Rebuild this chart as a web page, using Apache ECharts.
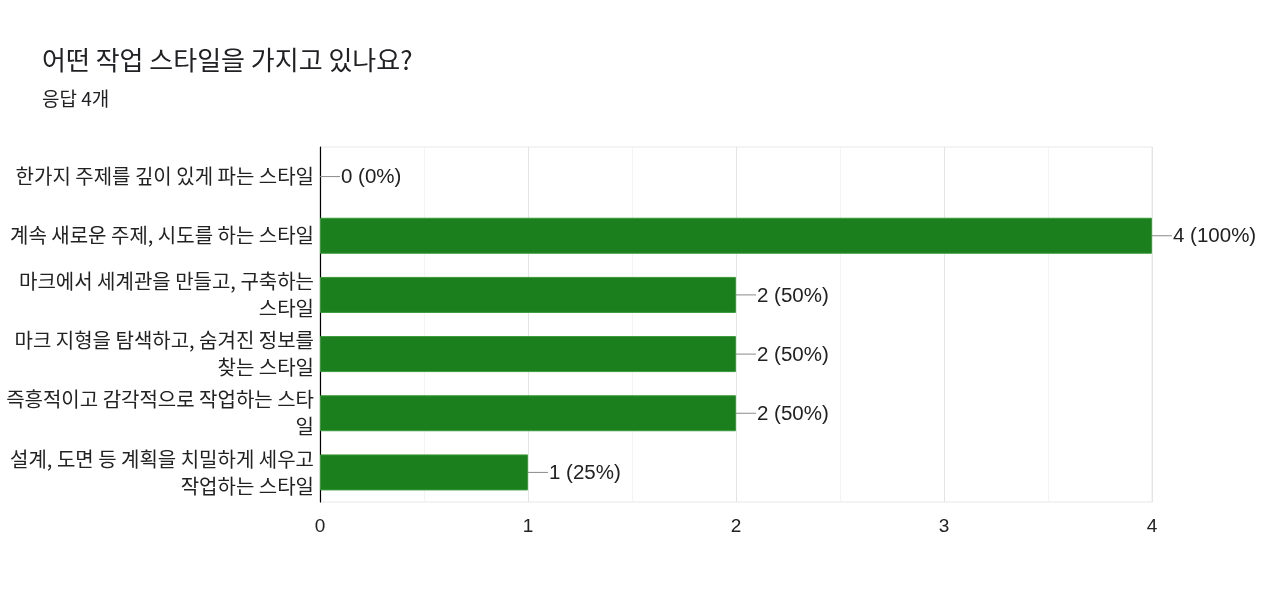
<!DOCTYPE html>
<html>
<head>
<meta charset="utf-8">
<script src="https://cdn.jsdelivr.net/npm/echarts@6/dist/echarts.min.js"></script>
<style>
  html, body { margin: 0; padding: 0; background: #fff; }
  #main { width: 1280px; height: 608px; }
</style>
</head>
<body>
<div id="main"></div>
<script>
// 질문과 응답 수
var question = '어떤 작업 스타일을 가지고 있나요?';
var responses = 4;

// 보기 (줄바꿈은 원본 그림과 같게)
var categories = [
    '한가지 주제를 깊이 있게 파는 스타일',
    '계속 새로운 주제, 시도를 하는 스타일',
    '마크에서 세계관을 만들고, 구축하는\n스타일',
    '마크 지형을 탐색하고, 숨겨진 정보를\n찾는 스타일',
    '즉흥적이고 감각적으로 작업하는 스타\n일',
    '설계, 도면 등 계획을 치밀하게 세우고\n작업하는 스타일'
];
var counts = [0, 4, 2, 2, 2, 1];
var xTicks = [0, 1, 2, 3, 4];

var myChart = echarts.init(document.getElementById('main'));

function valueLabel(v)
{
    return v + ' (' + Math.round(v / responses * 100) + '%)';
}

var option = {
    animation: false,
    title: [
        {
            text: question,
            left: 42,
            top: 47,
            padding: 0,
            textStyle: { fontSize: 26, fontWeight: 'normal', color: '#202124', fontFamily: 'Noto Sans CJK KR' }
        },
        {
            text: '응답 ' + responses + '개',
            left: 42,
            top: 89,
            padding: 0,
            textStyle: { fontSize: 19, fontWeight: 'normal', color: '#202124', fontFamily: 'Noto Sans CJK KR' }
        }
    ],
    grid: {
        left: 320,
        right: 128,
        top: 147,
        bottom: 106,
        show: true,
        borderColor: '#e8e8e8',
        borderWidth: 1
    },
    xAxis: {
        type: 'value',
        min: xTicks[0],
        max: xTicks[xTicks.length - 1],
        interval: 1,
        axisLine: { show: false },
        axisTick: { show: false },
        axisLabel: {
            margin: 15,
            fontSize: 19,
            color: '#222',
            fontFamily: 'Liberation Sans'
        },
        splitLine: { show: true, lineStyle: { color: '#e4e4e4', width: 1 } },
        minorTick: { show: false, splitNumber: 2 },
        minorSplitLine: { show: true, lineStyle: { color: '#f3f3f3', width: 1 } }
    },
    yAxis: {
        type: 'category',
        inverse: true,
        data: categories,
        axisLine: { show: true, lineStyle: { color: '#000', width: 1.2 } },
        axisTick: { show: false },
        axisLabel: {
            margin: 6,
            fontSize: 20,
            lineHeight: 27,
            align: 'right',
            color: '#222',
            fontFamily: 'Noto Sans CJK KR'
        }
    },
    series: [
        {
            type: 'bar',
            data: counts.map(function (v) {
                // 값이 0인 막대는 테두리도 그리지 않음
                return v === 0 ? { value: v, itemStyle: { borderWidth: 0 } } : v;
            }),
            barWidth: 36,
            itemStyle: { color: '#1a7f1c', borderColor: '#3a9a3a', borderWidth: 1 },
            z: 2
        },
        {
            // 값 라벨과 지시선
            type: 'custom',
            data: counts.map(function (v, i) { return [v, i]; }),
            encode: { x: 0, y: 1 },
            z: 3,
            renderItem: function (params, api) {
                var p = api.coord([api.value(0), api.value(1)]);
                return {
                    type: 'group',
                    children: [
                        {
                            type: 'line',
                            shape: { x1: p[0], y1: p[1], x2: p[0] + 20, y2: p[1] },
                            style: { stroke: '#8a8a8a', lineWidth: 1 }
                        },
                        {
                            type: 'text',
                            style: {
                                text: valueLabel(api.value(0)),
                                x: p[0] + 21,
                                y: p[1] + 1,
                                verticalAlign: 'middle',
                                fill: '#222',
                                fontSize: 20.5,
                                fontFamily: 'Liberation Sans'
                            }
                        }
                    ]
                };
            }
        }
    ]
};

myChart.setOption(option);
</script>
</body>
</html>
